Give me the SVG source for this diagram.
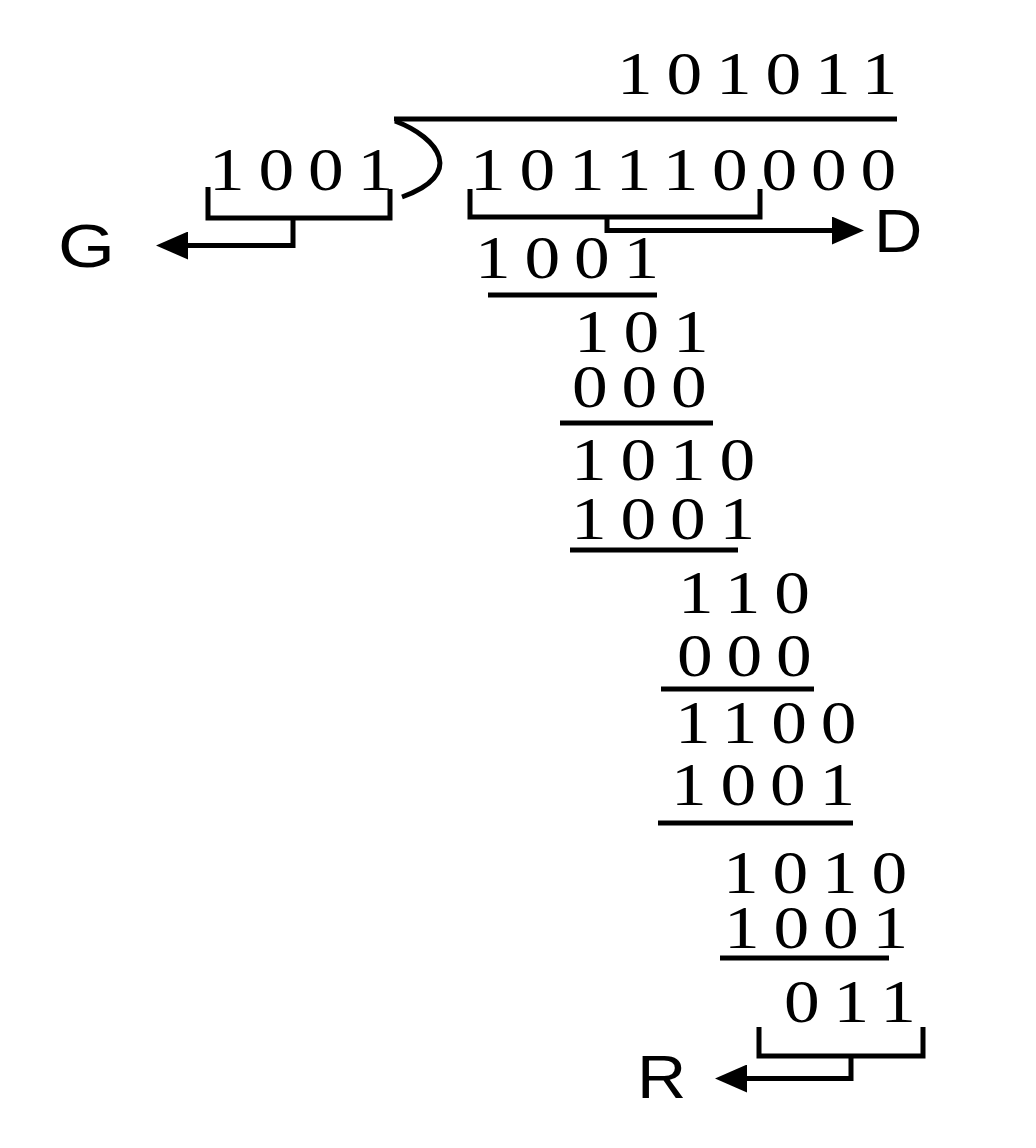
<svg xmlns="http://www.w3.org/2000/svg" width="1036" height="1148" viewBox="0 0 1036 1148">
<defs>
<style>
.d{font-family:"Liberation Serif","Times New Roman",serif;font-size:61px;letter-spacing:11.8px;fill:#000}
.l{font-family:"Liberation Sans",Arial,sans-serif;font-size:62px;fill:#000}
.ln{stroke:#000;stroke-width:5;fill:none;stroke-linejoin:miter}
</style>
<marker id="ah" markerUnits="userSpaceOnUse" markerWidth="32" markerHeight="28" refX="0" refY="14" orient="auto">
<path d="M0,0 L32,14 L0,28 z" fill="#000"/>
</marker>
</defs>
<rect width="1036" height="1148" fill="#fff"/>
<g id="quotient"><text class="d" transform="translate(617,94) scale(1.17,1)">101011</text></g>
<g id="divisor"><text class="d" transform="translate(209,190) scale(1.17,1)">1001</text></g>
<g id="dividend"><text class="d" transform="translate(470,190) scale(1.17,1)">101110000</text></g>
<g id="rows">
<text class="d" transform="translate(475,278) scale(1.17,1)">1001</text>
<text class="d" transform="translate(574,352) scale(1.17,1)">101</text>
<text class="d" transform="translate(572,407) scale(1.17,1)">000</text>
<text class="d" transform="translate(571,480) scale(1.17,1)">1010</text>
<text class="d" transform="translate(571,539) scale(1.17,1)">1001</text>
<text class="d" transform="translate(678,613) scale(1.17,1)">110</text>
<text class="d" transform="translate(677,676) scale(1.17,1)">000</text>
<text class="d" transform="translate(675,743) scale(1.17,1)">1100</text>
<text class="d" transform="translate(671,805) scale(1.17,1)">1001</text>
<text class="d" transform="translate(723,893) scale(1.17,1)">1010</text>
<text class="d" transform="translate(724,948) scale(1.17,1)">1001</text>
<text class="d" transform="translate(784,1022) scale(1.17,1)">011</text>
</g>
<g id="labels">
<text class="l" transform="translate(58,267) scale(1.18,1)">G</text>
<text class="l" transform="translate(874,252) scale(1.08,1)">D</text>
<text class="l" transform="translate(637,1098) scale(1.1,1)">R</text>
</g>
<g id="connectors">
<path class="ln" d="M394,119 H897"/>
<path class="ln" d="M395,121 C440,138 465,175 402,197"/>
<path class="ln" d="M488,295 H657"/>
<path class="ln" d="M560,423 H713"/>
<path class="ln" d="M570,550 H738"/>
<path class="ln" d="M661,689 H814"/>
<path class="ln" d="M658,823 H853"/>
<path class="ln" d="M720,958 H889"/>
<path class="ln" d="M208,187 V218 H390 V189"/>
<path class="ln" d="M293,218 V245.5 H188" marker-end="url(#ah)"/>
<path class="ln" d="M470,189 V217 H760 V189"/>
<path class="ln" d="M607,217 V230.5 H832" marker-end="url(#ah)"/>
<path class="ln" d="M759,1027 V1056 H923 V1027"/>
<path class="ln" d="M851,1056 V1078.5 H747" marker-end="url(#ah)"/>
</g>
</svg>
